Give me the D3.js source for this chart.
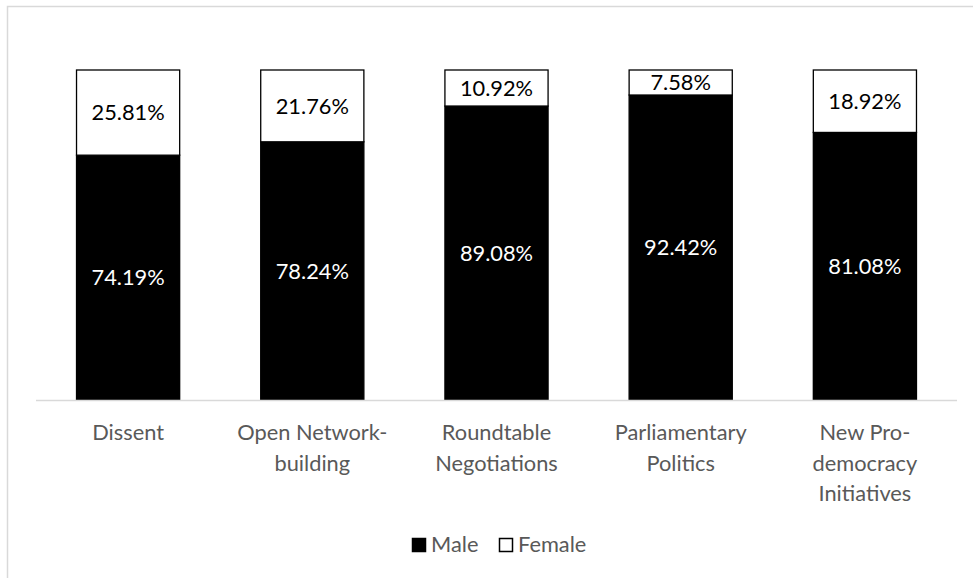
<!DOCTYPE html>
<html>
<head>
<meta charset="utf-8">
<script src="https://cdn.jsdelivr.net/npm/d3@7"></script>
<style>
  body { margin: 0; background: #fff; }
  svg { display: block; }
</style>
</head>
<body>
<div id="chart-area"></div>
<script>
var categories = [
    ["Dissent"],
    ["Open Network-", "building"],
    ["Roundtable", "Negotiations"],
    ["Parliamentary", "Politics"],
    ["New Pro-", "democracy", "Initiatives"]
];
var male = [74.19, 78.24, 89.08, 92.42, 81.08];
var female = [25.81, 21.76, 10.92, 7.58, 18.92];
var seriesNames = ["Male", "Female"];

var W = 973, H = 578;
var fontFam = "Lato, 'Noto Sans', sans-serif";
var fontSize = "21.8px";

var svg = d3.select("#chart-area")
    .append("svg")
    .attr("width", W)
    .attr("height", H);

// outer frame (right and bottom edges fall outside the picture)
svg.append("rect")
    .attr("x", 7.5)
    .attr("y", 6.5)
    .attr("width", W + 10)
    .attr("height", H + 10)
    .attr("fill", "#fff")
    .attr("stroke", "#d9d9d9")
    .attr("stroke-width", 1.5);

var x = d3.scaleBand()
    .domain(d3.range(categories.length))
    .range([36, 957])
    .paddingInner(0.44)
    .paddingOuter(0.22);

var y = d3.scaleLinear().domain([0, 100]).range([400, 70]);

var rows = male.map((m, i) => ({ i: i, male: m, female: female[i] }));
var stack = d3.stack().keys(["male", "female"])(rows);
var fills = { male: "#000", female: "#fff" };
var textFill = { male: "#fff", female: "#000" };

var g = svg.append("g");

stack.forEach(s => {
    var layer = g.append("g");
    layer.selectAll("rect")
        .data(s)
        .enter().append("rect")
        .attr("x", d => x(d.data.i))
        .attr("y", d => y(d[1]))
        .attr("width", x.bandwidth())
        .attr("height", d => y(d[0]) - y(d[1]))
        .attr("fill", fills[s.key])
        .attr("stroke", "#000")
        .attr("stroke-width", 1.3);

    layer.selectAll("text")
        .data(s)
        .enter().append("text")
        .attr("x", d => x(d.data.i) + x.bandwidth() / 2)
        .attr("y", d => (y(d[0]) + y(d[1])) / 2)
        .attr("dy", "0.36em")
        .attr("text-anchor", "middle")
        .attr("font-family", fontFam)
        .attr("font-size", fontSize)
        .attr("fill", textFill[s.key])
        .text(d => d3.format(".2f")(d[1] - d[0]) + "%");
});

// category axis
svg.append("line")
    .attr("x1", 36).attr("x2", 957)
    .attr("y1", y(0) + 0.5).attr("y2", y(0) + 0.5)
    .attr("stroke", "#d9d9d9")
    .attr("stroke-width", 1.5);

var labels = svg.append("g");
categories.forEach((lines, i) => {
    var t = labels.append("text")
        .attr("text-anchor", "middle")
        .attr("font-family", fontFam)
        .attr("font-size", fontSize)
        .attr("fill", "#595959");
    lines.forEach((ln, j) => {
        t.append("tspan")
            .attr("x", x(i) + x.bandwidth() / 2)
            .attr("y", 440 + j * 30.5)
            .text(ln);
    });
});

// legend
var legend = svg.append("g");
var legX = [412, 499];
seriesNames.forEach((name, i) => {
    legend.append("rect")
        .attr("x", legX[i] + 0.5)
        .attr("y", 538.5)
        .attr("width", 13)
        .attr("height", 13)
        .attr("fill", i === 0 ? "#000" : "#fff")
        .attr("stroke", "#000")
        .attr("stroke-width", 1.5);
    legend.append("text")
        .attr("x", legX[i] + 19)
        .attr("y", 552)
        .attr("font-family", fontFam)
        .attr("font-size", fontSize)
        .attr("fill", "#595959")
        .text(name);
});
</script>
</body>
</html>
